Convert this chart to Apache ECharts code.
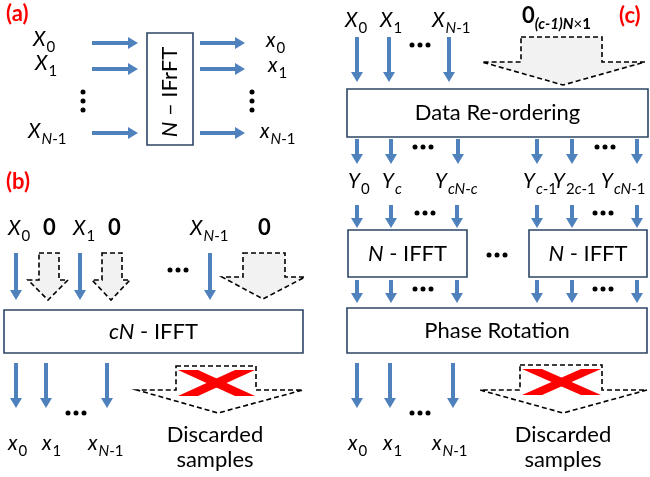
<!DOCTYPE html>
<html><head><meta charset="utf-8">
<script src="https://cdn.jsdelivr.net/npm/echarts@6/dist/echarts.min.js"></script>
<style>html,body{margin:0;padding:0;background:#fff}#c{width:650px;height:477px}</style>
</head><body><div id="c"></div>
<script>
// ---------- diagram data (diagram units = px of 650x477 canvas) ----------
// boxes: [x1, y1, x2, y2]
const boxes = [[147,33,193,145],[4,310,303,353],[347,89,648,137],[348,230,467,277],[529,230,647,277],[347,308,647,353]];
const boxTexts = ['{i|N}{r| – IFrFT}','{i|cN}{r| - IFFT}','{r|Data Re-ordering}','{i|N}{r| - IFFT}','{i|N}{r| - IFFT}','{r|Phase Rotation}'];
// horizontal arrows: [xStart, xEnd, y]
const hArrows = [[92,138,43],[92,138,69],[92,138,133],[200,245,43],[200,245,69],[200,245,133]];
// vertical arrows: [x, yStart, yEnd]
const vArrows = [
  [16,253,300],[80,253,300],[210,253,300],
  [16,363,408],[46,363,408],[107,363,408],
  [357,37,82],[389,37,82],[449,37,82],
  [357,139,164],[391,139,164],[458,139,164],[537,139,164],[572,139,164],[637,139,164],
  [357,205,228],[391,205,228],[457,205,228],[537,205,228],[572,205,228],[637,205,228],
  [357,280,303],[391,280,303],[457,280,303],[537,280,303],[572,280,303],[637,280,303],
  [357,363,408],[390,363,408],[453,363,408]
];
// horizontal ellipses (centre) and vertical ellipses (centre)
const hDots = [[178,270],[76,413],[420,45],[423,147],[605,147],[425,213],[603,213],[497,255],[423,289],[603,289],[420,413]];
const vDots = [[83,101],[252,101]];
// dashed block arrows: [shaftL, shaftR, top, shoulder, headL, headR, tipX, tipY]
const zeroBlocks = [[39,59,253,280,28,68,48,300],[102,122,253,280,92,130,111,300],[243,285,253,277,222,305,263,299],[521,602,37,62,482,645,563,85]];
const discardBlocks = [[176,256,366,390,137,303,218,413],[520,602,365,390,480,647,563,413]];
// math labels: [left x, baseline y, parts]
const X0=[['X','i'],['0','s']], X1=[['X','i'],['1','s']], XN=[['X','i'],['N','si'],['-1','s']];
const x0=[['x','i'],['0','s']], x1=[['x','i'],['1','s']], xN=[['x','i'],['N','si'],['-1','s']];
const Z=[['0','b']];
const labels = [
  [33,46,X0],[35,70,X1],[28,138,XN],[266,47,x0],[268,72,x1],[260,138,xN],
  [8,235,X0],[43,235,Z],[73,235,X1],[108,235,Z],[190,235,XN],[258,235,Z],
  [8,450,x0],[42,450,x1],[88,450,xN],
  [345,27,X0],[380,27,X1],[432,27,XN],[522,23,[['0','b'],['(c-1)N','sbi'],['×','s'],['1','sb']]],
  [348,188,[['Y','i'],['0','s']]],[382,188,[['Y','i'],['c','si']]],[435,188,[['Y','i'],['cN','si'],['-','s'],['c','si']]],
  [523,188,[['Y','i'],['c','si'],['-1','s']]],[553,188,[['Y','i'],['2','s'],['c','si'],['-1','s']]],[601,188,[['Y','i'],['cN','si'],['-1','s']]],
  [348,450,x0],[383,450,x1],[432,450,xN]
];
const panelTags = [['(a)',6,21],['(b)',6,189],['(c)',619,23]];
const discardLabels = [[215,'Discarded','samples'],[563,'Discarded','samples']];

// ---------- styling ----------
const FONT='Lato', BLUE='#4F81BD', BOX='#2C4566';
const MAIN=20.5, SUB=15, BOLD0=22, SUBDY=5.5;
const mctx=document.createElement('canvas').getContext('2d');
function sizeOf(k){ return k[0]==='s'?SUB:(k==='b'?BOLD0:MAIN); }
function fontOf(k){
  return (k.includes('i')?'italic ':'')+(k.includes('b')?'bold ':'')+sizeOf(k)+'px '+FONT;
}

const chart=echarts.init(document.getElementById('c'),null,{renderer:'canvas'});
const base={type:'custom',coordinateSystem:'cartesian2d',clip:false,silent:true};
chart.setOption({
  animation:false,
  grid:{left:0,right:0,top:0,bottom:0},
  xAxis:{type:'value',min:0,max:650,show:false},
  yAxis:{type:'value',min:0,max:477,inverse:true,show:false},
  series:[
    Object.assign({},base,{name:'zero',data:zeroBlocks,encode:{x:[0,1,4,5,6],y:[2,3,7]},
      renderItem:(p,api)=>blockShape(api,'#F2F2F2',false)}),
    Object.assign({},base,{name:'discard',data:discardBlocks,encode:{x:[0,1,4,5,6],y:[2,3,7]},
      renderItem:(p,api)=>blockShape(api,'#FFFFFF',true)}),
    Object.assign({},base,{name:'boxes',data:boxes,encode:{x:[0,2],y:[1,3]},
      renderItem:(p,api)=>{
        const a=api.coord([api.value(0),api.value(1)]), b=api.coord([api.value(2),api.value(3)]);
        const w=b[0]-a[0], h=b[1]-a[1], vert=h>w;
        const st={fontSize:22,fontFamily:FONT,fill:'#000'};
        return {type:'group',children:[
          {type:'rect',shape:{x:a[0],y:a[1],width:w,height:h},style:{fill:'#fff',stroke:BOX,lineWidth:1.6}},
          {type:'text',x:(a[0]+b[0])/2,y:(a[1]+b[1])/2+(vert?3:0),rotation:vert?Math.PI/2:0,
           style:{text:boxTexts[p.dataIndex],align:'center',verticalAlign:'middle',
             rich:{i:Object.assign({fontStyle:'italic'},st),r:Object.assign({},st)}}}
        ]};
      }}),
    Object.assign({},base,{name:'hArrows',data:hArrows,encode:{x:[0,1],y:2},
      renderItem:(p,api)=>{
        const a=api.coord([api.value(0),api.value(2)]), b=api.coord([api.value(1),api.value(2)]);
        const hl=10,hw=6,sw=2.1;
        return {type:'group',children:[
          {type:'rect',shape:{x:a[0],y:a[1]-sw,width:b[0]-a[0]-hl+1,height:sw*2},style:{fill:BLUE}},
          {type:'polygon',shape:{points:[[b[0]-hl,b[1]-hw],[b[0],b[1]],[b[0]-hl,b[1]+hw]]},style:{fill:BLUE}}
        ]};
      }}),
    Object.assign({},base,{name:'vArrows',data:vArrows,encode:{x:0,y:[1,2]},
      renderItem:(p,api)=>{
        const a=api.coord([api.value(0),api.value(1)]), b=api.coord([api.value(0),api.value(2)]);
        const hl=10,hw=6,sw=2;
        return {type:'group',children:[
          {type:'rect',shape:{x:a[0]-sw,y:a[1],width:sw*2,height:b[1]-a[1]-hl+1},style:{fill:BLUE}},
          {type:'polygon',shape:{points:[[b[0]-hw,b[1]-hl],[b[0],b[1]],[b[0]+hw,b[1]-hl]]},style:{fill:BLUE}}
        ]};
      }}),
    Object.assign({},base,{name:'hDots',data:hDots,encode:{x:0,y:1},
      renderItem:(p,api)=>dots(api,true)}),
    Object.assign({},base,{name:'vDots',data:vDots,encode:{x:0,y:1},
      renderItem:(p,api)=>dots(api,false)}),
    Object.assign({},base,{name:'labels',data:labels.map(l=>[l[0],l[1]]),encode:{x:0,y:1},
      renderItem:(p,api)=>{
        const o=api.coord([api.value(0),api.value(1)]);
        let x=o[0]; const kids=[];
        for(const [t,k] of labels[p.dataIndex][2]){
          const f=fontOf(k); mctx.font=f;
          const sub=k[0]==='s';
          const size=sizeOf(k);
          const y=o[1]+(sub?SUBDY:0)-size*0.32;
          kids.push({type:'text',x:x,y:y,style:{text:t,font:f,fill:'#000',align:'left',verticalAlign:'middle'}});
          x+=mctx.measureText(t).width+(k==='i'?1:0);
        }
        return {type:'group',children:kids};
      }}),
    Object.assign({},base,{name:'tags',data:panelTags.map(t=>[t[1],t[2]]),encode:{x:0,y:1},
      renderItem:(p,api)=>{
        const o=api.coord([api.value(0),api.value(1)]);
        return {type:'text',x:o[0],y:o[1]-22*0.32,style:{text:panelTags[p.dataIndex][0],font:'bold 22px '+FONT,fill:'#FF0000',align:'left',verticalAlign:'middle'}};
      }}),
    Object.assign({},base,{name:'discardText',data:discardLabels.map(d=>[d[0],435]),encode:{x:0,y:1},
      renderItem:(p,api)=>{
        const o=api.coord([api.value(0),api.value(1)]);
        const d=discardLabels[p.dataIndex];
        return {type:'group',children:[
          {type:'text',x:o[0],y:o[1],style:{text:d[1],font:'22px '+FONT,fill:'#000',align:'center',verticalAlign:'middle'}},
          {type:'text',x:o[0],y:o[1]+25,style:{text:d[2],font:'22px '+FONT,fill:'#000',align:'center',verticalAlign:'middle'}}
        ]};
      }})
  ]
});
function blockShape(api,fill,cross){
  const c=(x,y)=>api.coord([x,y]);
  const v=i=>api.value(i);
  const L=v(0),R=v(1),T=v(2),S=v(3),HL=v(4),HR=v(5),TX=v(6),TY=v(7);
  const pts=[c(L,T),c(R,T),c(R,S),c(HR,S),c(TX,TY),c(HL,S),c(L,S)];
  const kids=[{type:'polygon',shape:{points:pts},style:{fill:fill,stroke:'#000',lineWidth:1.6,lineDash:[5,3]}}];
  if(cross){
    const x1=L+2,x2=R-1,y1=T+4,y2=T+30,w=20;
    kids.push({type:'polygon',shape:{points:[c(x1,y1),c(x1+w,y1),c(x2,y2),c(x2-w,y2)]},style:{fill:'#FF0000'}});
    kids.push({type:'polygon',shape:{points:[c(x2-w,y1),c(x2,y1),c(x1+w,y2),c(x1,y2)]},style:{fill:'#FF0000'}});
  }
  return {type:'group',children:kids};
}
function dots(api,horiz){
  const o=api.coord([api.value(0),api.value(1)]);
  const kids=[];
  for(let k=-1;k<=1;k++){
    kids.push({type:'circle',shape:{cx:o[0]+(horiz?k*8:0),cy:o[1]+(horiz?0:k*9),r:2.5},style:{fill:'#000'}});
  }
  return {type:'group',children:kids};
}
</script></body></html>
